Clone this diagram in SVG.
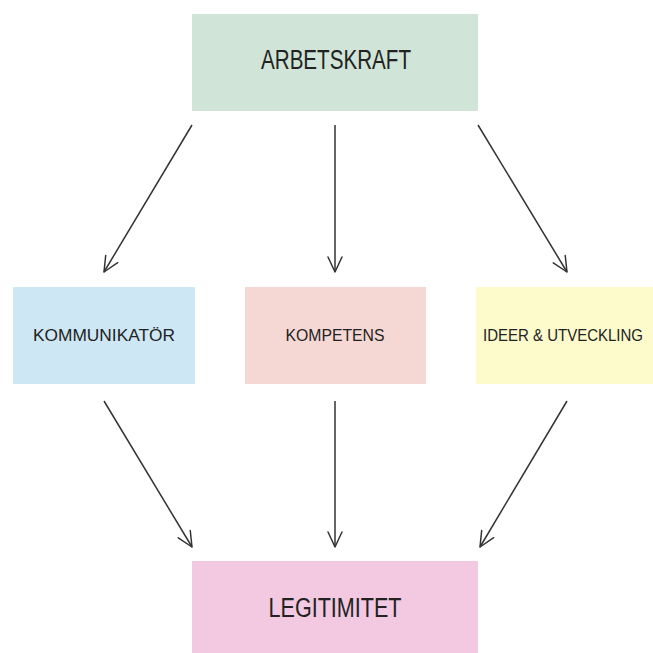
<svg xmlns="http://www.w3.org/2000/svg" width="653" height="653" viewBox="0 0 653 653">
<defs>
<marker id="ah" markerUnits="userSpaceOnUse" markerWidth="30" markerHeight="30" viewBox="-20 -15 30 30" refX="0" refY="0" orient="auto">
<path d="M-15,-7 L0,0 L-15,7" fill="none" stroke="#333" stroke-width="1.5" stroke-linecap="round" stroke-linejoin="round"/>
</marker>
</defs>
<style>
text{font-family:"Liberation Sans","DejaVu Sans",sans-serif;fill:#222;text-anchor:middle}
.big{font-size:27px}
.mid{font-size:17px}
.c{stroke:#333;stroke-width:1.5;fill:none;marker-end:url(#ah)}
</style>
<rect width="653" height="653" fill="#fff"/>
<g id="arbetskraft"><rect x="192" y="14" width="286" height="97" fill="#d0e5d7"/><text class="big" x="336" y="69" textLength="150" lengthAdjust="spacingAndGlyphs">ARBETSKRAFT</text></g>
<g id="kommunikator"><rect x="13" y="287" width="182" height="97" fill="#cde8f4"/><text class="mid" x="104" y="341" textLength="142" lengthAdjust="spacingAndGlyphs">KOMMUNIKATÖR</text></g>
<g id="kompetens"><rect x="245" y="287" width="181" height="97" fill="#f5d8d4"/><text class="mid" x="335" y="341" textLength="99" lengthAdjust="spacingAndGlyphs">KOMPETENS</text></g>
<g id="ideer"><rect x="476" y="287" width="177" height="97" fill="#fdfacc"/><text class="mid" x="563" y="341" textLength="160" lengthAdjust="spacingAndGlyphs">IDEER &amp; UTVECKLING</text></g>
<g id="legitimitet"><rect x="192" y="561" width="286" height="92" fill="#f2c9e0"/><text class="big" x="335" y="617" textLength="133" lengthAdjust="spacingAndGlyphs">LEGITIMITET</text></g>
<g id="connectors">
<line class="c" x1="192" y1="125" x2="104" y2="272"/>
<line class="c" x1="335" y1="125" x2="335" y2="272"/>
<line class="c" x1="478" y1="125" x2="567" y2="272"/>
<line class="c" x1="104" y1="401" x2="192" y2="547"/>
<line class="c" x1="335" y1="401" x2="335" y2="547"/>
<line class="c" x1="567" y1="401" x2="480" y2="547"/>
</g>
</svg>
